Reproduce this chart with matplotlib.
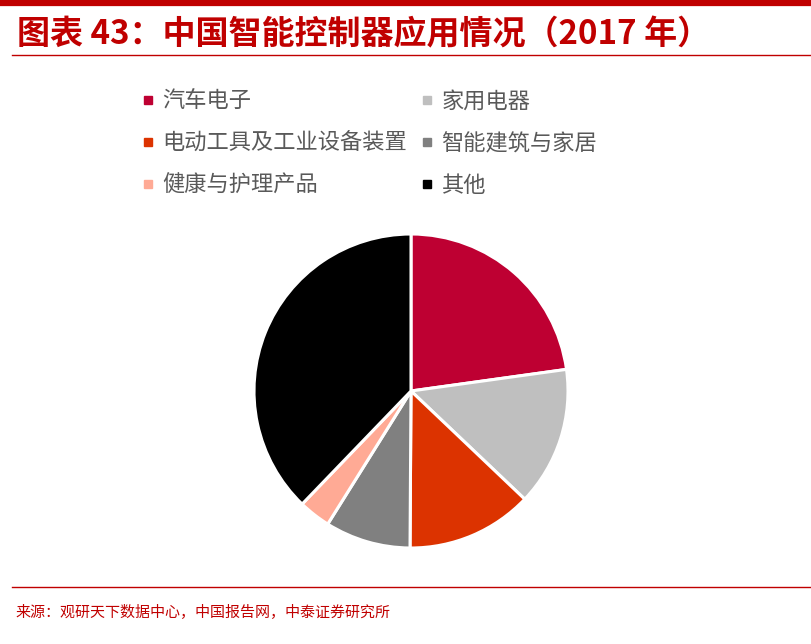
import matplotlib
matplotlib.use("Agg")
import matplotlib.pyplot as plt
from matplotlib.lines import Line2D

plt.rcParams['font.family'] = ['Noto Sans CJK SC', 'DejaVu Sans']

categories = ["汽车电子", "家用电器", "电动工具及工业设备装置", "智能建筑与家居", "健康与护理产品", "其他"]
values = [22.8, 14.3, 13.0, 8.8, 3.3, 37.8]
colors = ["#BE0032", "#BFBFBF", "#DC3300", "#808080", "#FFAA95", "#000000"]
title = "图表 43：中国智能控制器应用情况（2017 年）"
source = "来源：观研天下数据中心，中国报告网，中泰证券研究所"

W, H = 812, 644
fig = plt.figure(figsize=(W / 100, H / 100), dpi=100)

# decorative lines
red = "#C00000"
fig.add_artist(Line2D([0, 1], [1 - 3 / H, 1 - 3 / H], color=red, lw=4.5, transform=fig.transFigure))
fig.add_artist(Line2D([12 / W, 1], [1 - 55 / H, 1 - 55 / H], color=red, lw=1.0, transform=fig.transFigure))
fig.add_artist(Line2D([12 / W, 1], [1 - 587 / H, 1 - 587 / H], color=red, lw=1.0, transform=fig.transFigure))

fig.text(17 / W, 1 - 35 / H, title, color=red, fontsize=23.8, fontweight='bold',
         fontstyle='italic', va='center', ha='left')
fig.text(15 / W, 1 - 612 / H, source, color=red, fontsize=10.8, va='center', ha='left')

# pie
cx, cy, r = 411, 391, 157
rr = r * 1.02
ax = fig.add_axes([(cx - rr) / W, (H - cy - rr) / H, 2 * rr / W, 2 * rr / H])
ax.pie(values, colors=colors, startangle=90, counterclock=False,
       wedgeprops=dict(edgecolor='white', linewidth=2.2), radius=1.0)
ax.set_xlim(-1.02, 1.02)
ax.set_ylim(-1.02, 1.02)
ax.axis('off')

# legend (row-major order like the reference)
handles = [Line2D([], [], marker='s', linestyle='none', markersize=6,
                  markerfacecolor=c, markeredgecolor=c) for c in colors]
order = [0, 2, 4, 1, 3, 5]
leg = fig.legend([handles[i] for i in order], [categories[i] for i in order],
                 ncol=2, frameon=False, loc='upper left',
                 bbox_to_anchor=(121 / W, 1 - 70 / H),
                 fontsize=16, labelcolor='#595959',
                 handlelength=0.6, handletextpad=0.35, columnspacing=0.6,
                 labelspacing=0.86)

fig.savefig("out.png", dpi=100)
